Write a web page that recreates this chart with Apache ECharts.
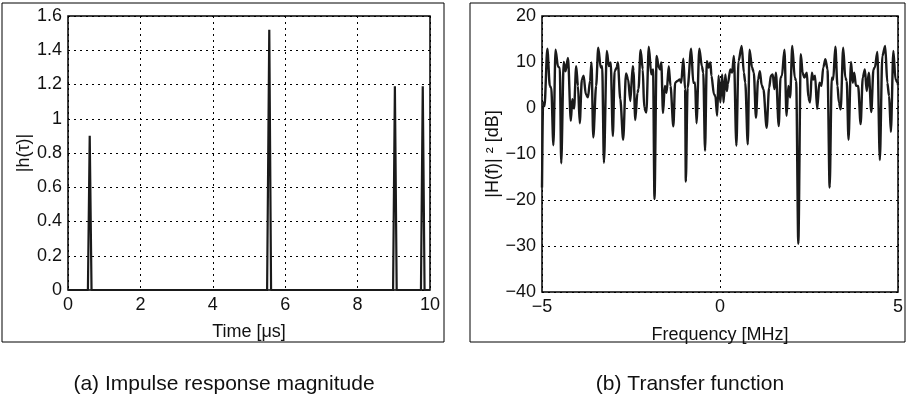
<!DOCTYPE html>
<html>
<head>
<meta charset="utf-8">
<script src="https://cdn.jsdelivr.net/npm/echarts@6/dist/echarts.min.js"></script>
<style>
  html, body { margin: 0; padding: 0; background: #fff; }
  #main { width: 911px; height: 401px; }
</style>
</head>
<body>
<div id="main"></div>
<script>
// (a) impulse response trace
const tauUs = [0, 0.55, 0.6, 0.65, 5.5, 5.56, 5.61, 8.98, 9.03, 9.08, 9.75, 9.8, 9.85, 10];
const hMag = [0, 0, 0.9, 0, 0, 1.52, 0, 0, 1.19, 0, 0, 1.19, 0, 0];

// (b) transfer function |H(f)|^2 in dB
const freqMHz = [
  -5.00, -4.97, -4.93, -4.85, -4.78, -4.74, -4.68, -4.62, -4.55, -4.50,
  -4.46, -4.39, -4.34, -4.27, -4.19, -4.15, -4.10, -4.04, -3.99, -3.94,
  -3.88, -3.83, -3.77, -3.71, -3.65, -3.61, -3.56, -3.48, -3.42, -3.35,
  -3.31, -3.26, -3.18, -3.12, -3.07, -3.01, -2.96, -2.90, -2.87, -2.80,
  -2.72, -2.64, -2.58, -2.52, -2.45, -2.43, -2.38, -2.32, -2.29, -2.23,
  -2.17, -2.13, -2.07, -2.00, -1.93, -1.88, -1.84, -1.78, -1.72, -1.68,
  -1.65, -1.60, -1.55, -1.50, -1.44, -1.39, -1.31, -1.26, -1.19, -1.13,
  -1.09, -1.03, -0.98, -0.96, -0.91, -0.81, -0.75, -0.70, -0.66, -0.58,
  -0.51, -0.47, -0.42, -0.37, -0.32, -0.27, -0.24, -0.17, -0.13, -0.08,
  -0.04, 0.01, 0.06, 0.10, 0.15, 0.19, 0.22, 0.29, 0.34, 0.39,
  0.46, 0.52, 0.61, 0.67, 0.71, 0.78, 0.83, 0.90, 0.95, 1.01,
  1.07, 1.12, 1.17, 1.22, 1.31, 1.38, 1.43, 1.48, 1.53, 1.57,
  1.65, 1.70, 1.74, 1.81, 1.87, 1.92, 1.97, 2.03, 2.10, 2.14,
  2.20, 2.27, 2.32, 2.37, 2.44, 2.48, 2.53, 2.58, 2.62, 2.67,
  2.73, 2.79, 2.85, 2.90, 2.96, 3.02, 3.08, 3.14, 3.18, 3.24,
  3.30, 3.34, 3.39, 3.46, 3.52, 3.56, 3.61, 3.68, 3.73, 3.77,
  3.82, 3.88, 3.95, 4.01, 4.07, 4.12, 4.18, 4.25, 4.31, 4.35,
  4.42, 4.49, 4.56, 4.64, 4.70, 4.75, 4.80, 4.87, 4.93, 4.99, 5.00
];
const gainDb = [
  -17.3, 1.2, 0.4, 12.9, 4.8, 4.4, -8.1, 12.7, 9.0, 8.7,
  -12.0, 10.0, 8.0, 10.9, -2.8, 1.9, -0.1, 9.1, 4.8, -3.3,
  6.2, 7.0, 3.0, 2.3, 5.9, 9.9, -6.4, 4.8, 13.1, 8.8,
  9.1, -11.9, 12.4, 9.1, 9.9, -6.1, 8.0, 8.8, 9.9, 1.9,
  -6.9, 7.5, 6.2, 1.5, 9.1, 8.0, -2.6, 3.3, 4.1, 12.6,
  8.4, 0.1, -1.0, 13.3, 7.3, 8.4, -19.8, 11.3, 8.8, 8.4,
  9.9, -1.1, 4.8, 3.3, 9.1, 4.8, -4.0, 5.5, 5.9, 6.2,
  5.5, 10.7, 4.1, -16.0, 4.4, 12.9, 5.5, 5.5, -3.3, 12.9,
  9.1, 7.7, -9.3, 10.2, 8.8, 9.9, 7.0, 3.0, 2.6, -1.7,
  7.0, 1.2, 7.3, 1.2, 7.3, 3.7, 5.2, 8.4, 7.7, 11.3,
  -8.2, 10.2, 13.5, 7.7, 5.5, -7.9, 12.7, 8.8, 7.7, -2.1,
  6.2, 8.0, 5.0, 4.1, -4.3, 4.4, 7.0, 7.3, 4.1, 7.7,
  -3.9, 6.6, 7.0, 12.7, -1.7, 4.8, 2.3, 13.5, 6.6, 5.9,
  -29.5, 11.7, 7.7, 6.6, 7.7, 2.3, 1.2, 7.7, 6.2, 7.0,
  -0.2, 5.5, 4.8, 8.8, 10.6, 8.4, -17.3, 6.6, 6.2, 13.3,
  4.8, 1.2, -0.3, 13.1, 6.6, 5.9, -6.9, 10.0, 5.5, 7.7,
  4.8, 4.8, -3.5, 6.6, 8.4, 3.7, 7.7, -0.9, 8.4, 8.8,
  12.2, -11.3, 11.3, 13.5, 5.5, 2.6, -5.2, 12.4, 6.2, 5.5, 5.0
];

const FONT = '"Liberation Sans", Arial, Helvetica, sans-serif';
const minus = (v) => String(v).replace('-', '\u2212');

const gridLine = { show: true, lineStyle: { color: '#000', width: 1, type: [2, 4] } };
const axisLabel = { color: '#111', fontFamily: FONT, fontSize: 18, margin: 6 };
const axisName = { color: '#111', fontFamily: FONT, fontSize: 18 };

let chart = echarts.init(document.getElementById('main'), null, { renderer: 'canvas' });

chart.setOption({
  animation: false,
  backgroundColor: '#fff',
  grid: [
    { left: 68, top: 16, width: 362, height: 274, show: true, borderColor: '#000', borderWidth: 1.5 },
    { left: 542, top: 16, width: 356, height: 276, show: true, borderColor: '#000', borderWidth: 1.5 }
  ],
  xAxis: [
    {
      gridIndex: 0, type: 'value', min: 0, max: 10, interval: 2,
      name: 'Time [\u03bcs]', nameLocation: 'middle', nameGap: 33, nameTextStyle: axisName,
      axisLine: { show: false }, axisTick: { show: false },
      axisLabel: axisLabel, splitLine: gridLine
    },
    {
      gridIndex: 1, type: 'value', min: -5, max: 5, interval: 5,
      name: 'Frequency [MHz]', nameLocation: 'middle', nameGap: 34, nameTextStyle: axisName,
      axisLine: { show: false }, axisTick: { show: false },
      axisLabel: Object.assign({}, axisLabel, { formatter: minus }), splitLine: gridLine
    }
  ],
  yAxis: [
    {
      gridIndex: 0, type: 'value', min: 0, max: 1.6, interval: 0.2,
      name: '|h(\u03c4)|', nameLocation: 'middle', nameGap: 35, nameTextStyle: axisName,
      axisLine: { show: false }, axisTick: { show: false },
      axisLabel: axisLabel, splitLine: gridLine
    },
    {
      gridIndex: 1, type: 'value', min: -40, max: 20, interval: 10,
      name: '|H(f)| \u00b2 [dB]', nameLocation: 'middle', nameGap: 40, nameTextStyle: axisName,
      axisLine: { show: false }, axisTick: { show: false },
      axisLabel: Object.assign({}, axisLabel, { formatter: minus }), splitLine: gridLine
    }
  ],
  graphic: [
    { type: 'rect', shape: { x: 2, y: 3, width: 442, height: 339 }, style: { fill: null, stroke: '#000', lineWidth: 1 }, silent: true },
    { type: 'rect', shape: { x: 470, y: 3, width: 435, height: 339 }, style: { fill: null, stroke: '#000', lineWidth: 1 }, silent: true },
    { type: 'text', x: 224, y: 384, style: { text: '(a) Impulse response magnitude', fill: '#111', font: '21px ' + FONT, textAlign: 'center', textVerticalAlign: 'middle' }, silent: true },
    { type: 'text', x: 690, y: 384, style: { text: '(b) Transfer function', fill: '#111', font: '21px ' + FONT, textAlign: 'center', textVerticalAlign: 'middle' }, silent: true }
  ],
  series: [
    {
      type: 'line', xAxisIndex: 0, yAxisIndex: 0, showSymbol: false,
      lineStyle: { color: '#1a1a1a', width: 2.2 },
      data: tauUs.map((t, i) => [t, hMag[i]])
    },
    {
      type: 'line', xAxisIndex: 1, yAxisIndex: 1, showSymbol: false,
      smooth: 0.3, smoothMonotone: 'x',
      lineStyle: { color: '#1a1a1a', width: 2.4 },
      data: freqMHz.map((f, i) => [f, gainDb[i]])
    }
  ]
});
</script>
</body>
</html>
